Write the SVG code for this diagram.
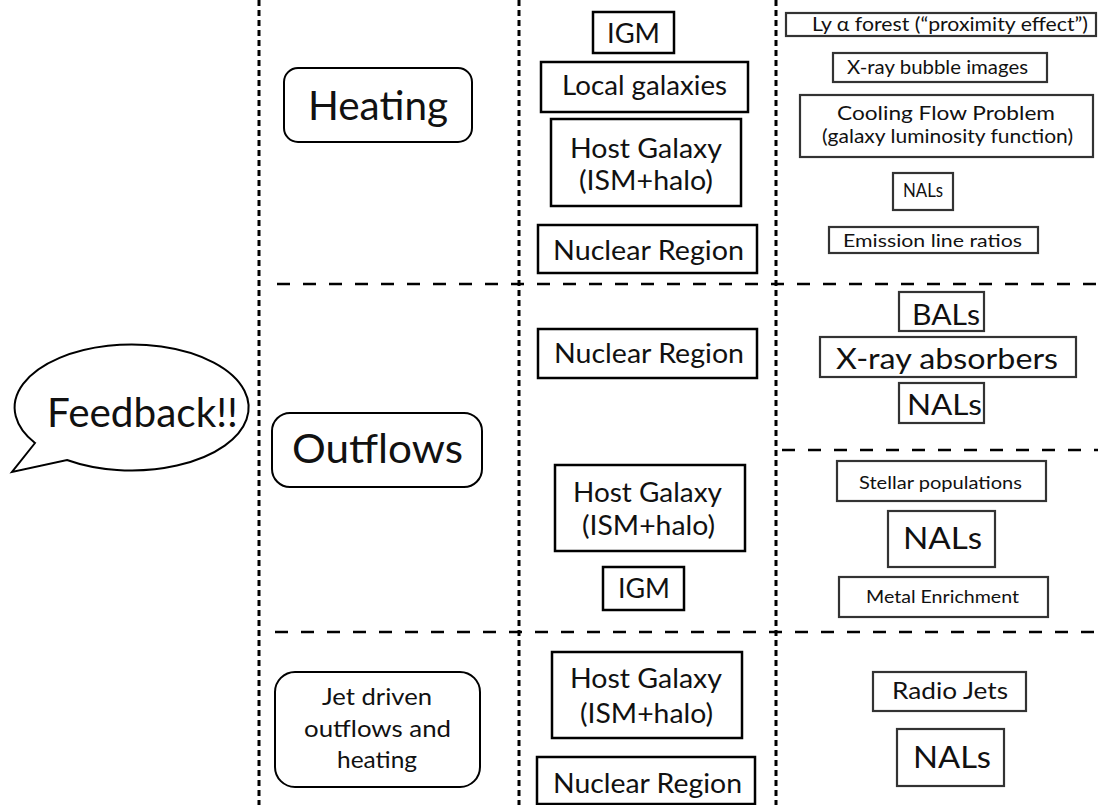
<svg xmlns="http://www.w3.org/2000/svg" width="1098" height="805" viewBox="0 0 1098 805">
<style>
.box{fill:#fff;stroke:#000;stroke-width:2.5}
.rbox{fill:#fff;stroke:#333;stroke-width:2.2}
.rr{fill:#fff;stroke:#000;stroke-width:2}
.vline{stroke:#000;stroke-width:3;stroke-dasharray:6 4;fill:none}
.hline{stroke:#000;stroke-width:2.5;stroke-dasharray:13 13;fill:none}
text{font-family:Lato,"Liberation Sans",sans-serif;fill:#111;text-anchor:middle}
.m{font-size:27px}
.s{font-size:19px}
.xs{font-size:17px}
.l{font-size:29px}
</style>
<rect width="1098" height="805" fill="#fff"/>
<g id="connectors">
<line class="vline" x1="259" y1="0" x2="259" y2="805"/>
<line class="vline" x1="519" y1="0" x2="519" y2="805"/>
<line class="vline" x1="776" y1="0" x2="776" y2="805"/>
<line class="hline" x1="277" y1="284" x2="1098" y2="284"/>
<line class="hline" x1="782" y1="450" x2="1098" y2="450"/>
<line class="hline" x1="275" y1="632" x2="1098" y2="632"/>
</g>
<g id="feedback">
<path d="M35,443 L12,472 L67,460 A117,63 0 1 0 35,443 Z" fill="#fff" stroke="#000" stroke-width="2"/>
<text x="142.5" y="427" font-size="40" textLength="191" lengthAdjust="spacingAndGlyphs">Feedback!!</text>
</g>
<g id="heating">
<rect class="rr" x="284" y="68" width="188" height="74" rx="14"/>
<text x="378" y="120" font-size="40" textLength="140" lengthAdjust="spacingAndGlyphs">Heating</text>
</g>
<g id="outflows">
<rect class="rr" x="272" y="413" width="210" height="74" rx="18"/>
<text x="377.5" y="463" font-size="41" textLength="171" lengthAdjust="spacingAndGlyphs">Outflows</text>
</g>
<g id="jet">
<rect class="rr" x="275" y="672" width="205" height="115" rx="20"/>
<text x="377" y="705" font-size="24" textLength="110" lengthAdjust="spacingAndGlyphs">Jet driven</text>
<text x="377.5" y="737" font-size="24" textLength="147" lengthAdjust="spacingAndGlyphs">outflows and</text>
<text x="377" y="768" font-size="24" textLength="80" lengthAdjust="spacingAndGlyphs">heating</text>
</g>
<g id="h-igm">
<rect class="box" x="593" y="12" width="81" height="41"/>
<text class="m" x="633.5" y="43" textLength="53" lengthAdjust="spacingAndGlyphs">IGM</text>
</g>
<g id="h-local">
<rect class="box" x="541" y="62" width="207" height="50"/>
<text class="m" x="644.5" y="95" textLength="165" lengthAdjust="spacingAndGlyphs">Local galaxies</text>
</g>
<g id="h-host">
<rect class="box" x="551" y="119" width="190" height="87"/>
<text class="m" x="646" y="158" textLength="152" lengthAdjust="spacingAndGlyphs">Host Galaxy</text>
<text class="m" x="646" y="190" textLength="134" lengthAdjust="spacingAndGlyphs">(ISM+halo)</text>
</g>
<g id="h-nuclear">
<rect class="box" x="538" y="225" width="219" height="48"/>
<text class="m" x="648.5" y="260" textLength="191" lengthAdjust="spacingAndGlyphs">Nuclear Region</text>
</g>
<g id="o-nuclear">
<rect class="box" x="538" y="329" width="219" height="49"/>
<text class="m" x="649" y="363" textLength="190" lengthAdjust="spacingAndGlyphs">Nuclear Region</text>
</g>
<g id="o-host">
<rect class="box" x="555" y="465" width="190" height="86"/>
<text class="m" x="647.5" y="502" textLength="149" lengthAdjust="spacingAndGlyphs">Host Galaxy</text>
<text class="m" x="648.5" y="535" textLength="133" lengthAdjust="spacingAndGlyphs">(ISM+halo)</text>
</g>
<g id="o-igm">
<rect class="box" x="603" y="567" width="81" height="43"/>
<text class="m" x="644" y="598" textLength="52" lengthAdjust="spacingAndGlyphs">IGM</text>
</g>
<g id="j-host">
<rect class="box" x="552" y="652" width="190" height="86"/>
<text class="m" x="646" y="688" textLength="152" lengthAdjust="spacingAndGlyphs">Host Galaxy</text>
<text class="m" x="646.5" y="723" textLength="133" lengthAdjust="spacingAndGlyphs">(ISM+halo)</text>
</g>
<g id="j-nuclear">
<rect class="box" x="537" y="757" width="218" height="47"/>
<text class="m" x="647.5" y="793" textLength="189" lengthAdjust="spacingAndGlyphs">Nuclear Region</text>
</g>
<g id="r-lya">
<rect class="rbox" x="786" y="13" width="310" height="23"/>
<text class="s" x="950" y="31" textLength="276" lengthAdjust="spacingAndGlyphs">Ly α forest (“proximity effect”)</text>
</g>
<g id="r-xbubble">
<rect class="rbox" x="833" y="53" width="214" height="29"/>
<text class="s" x="937.5" y="74" textLength="181" lengthAdjust="spacingAndGlyphs">X-ray bubble images</text>
</g>
<g id="r-cooling">
<rect class="rbox" x="800" y="95" width="293" height="62"/>
<text class="s" x="946" y="120" textLength="218" lengthAdjust="spacingAndGlyphs">Cooling Flow Problem</text>
<text class="s" x="947.5" y="143" textLength="251" lengthAdjust="spacingAndGlyphs">(galaxy luminosity function)</text>
</g>
<g id="r-nals1">
<rect class="rbox" x="893" y="173" width="60" height="37"/>
<text class="s" x="923" y="197" textLength="40" lengthAdjust="spacingAndGlyphs">NALs</text>
</g>
<g id="r-emission">
<rect class="rbox" x="829" y="227" width="209" height="26"/>
<text class="xs" x="932.5" y="247" textLength="179" lengthAdjust="spacingAndGlyphs">Emission line ratios</text>
</g>
<g id="r-bals">
<rect class="rbox" x="899" y="292" width="85" height="39"/>
<text class="l" x="946" y="325" textLength="68" lengthAdjust="spacingAndGlyphs">BALs</text>
</g>
<g id="r-xabs">
<rect class="rbox" x="820" y="337" width="256" height="40"/>
<text class="l" x="947" y="369" textLength="222" lengthAdjust="spacingAndGlyphs">X-ray absorbers</text>
</g>
<g id="r-nals2">
<rect class="rbox" x="899" y="383" width="85" height="40"/>
<text class="l" x="944.5" y="415" textLength="75" lengthAdjust="spacingAndGlyphs">NALs</text>
</g>
<g id="r-stellar">
<rect class="rbox" x="837" y="461" width="209" height="40"/>
<text class="xs" x="940.5" y="489" textLength="163" lengthAdjust="spacingAndGlyphs">Stellar populations</text>
</g>
<g id="r-nals3">
<rect class="rbox" x="888" y="511" width="107" height="56"/>
<text x="942.5" y="549" font-size="31" textLength="79" lengthAdjust="spacingAndGlyphs">NALs</text>
</g>
<g id="r-metal">
<rect class="rbox" x="839" y="577" width="209" height="40"/>
<text class="xs" x="942.5" y="603" textLength="153" lengthAdjust="spacingAndGlyphs">Metal Enrichment</text>
</g>
<g id="r-radio">
<rect class="rbox" x="873" y="672" width="153" height="39"/>
<text x="950" y="699" font-size="24" textLength="116" lengthAdjust="spacingAndGlyphs">Radio Jets</text>
</g>
<g id="r-nals4">
<rect class="rbox" x="897" y="729" width="107" height="57"/>
<text x="952" y="768" font-size="31" textLength="78" lengthAdjust="spacingAndGlyphs">NALs</text>
</g>
</svg>
